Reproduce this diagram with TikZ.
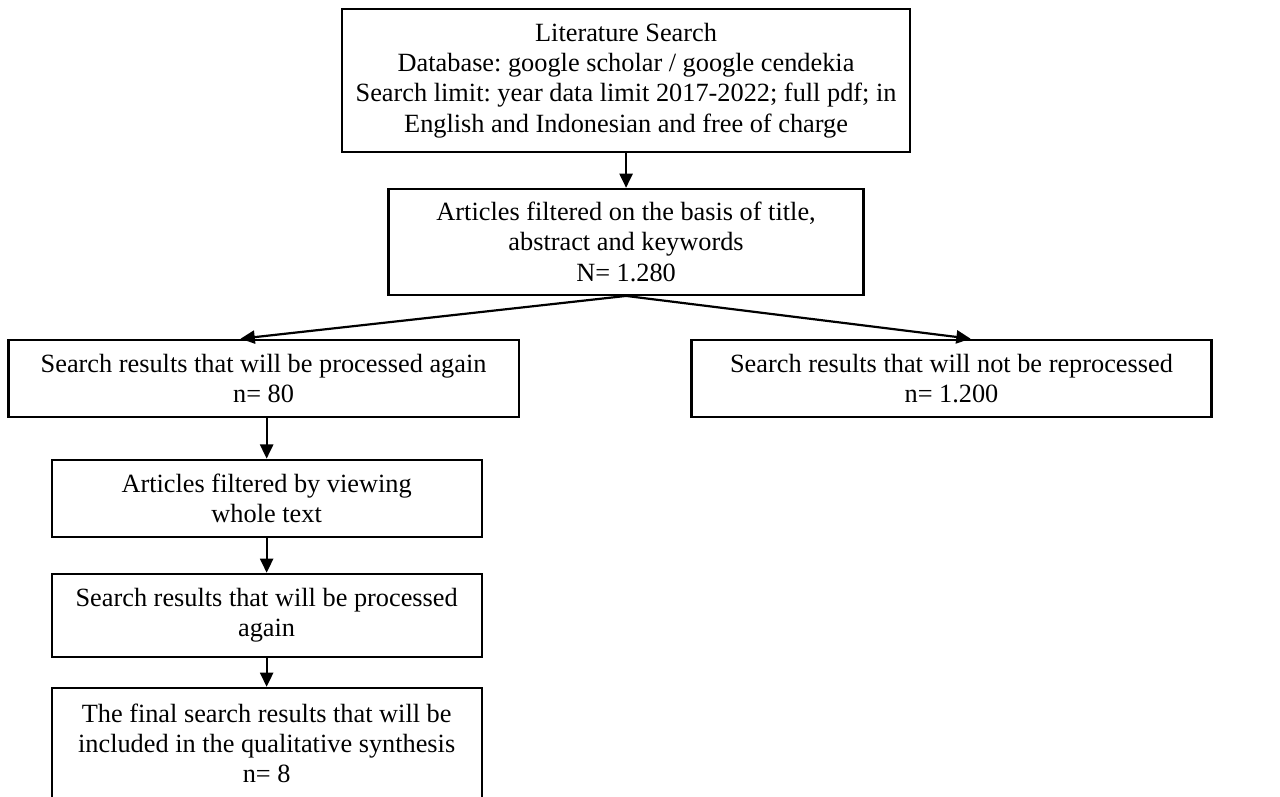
\documentclass[tikz,border=0pt]{standalone}
\usepackage{fontspec}
\setmainfont{Liberation Serif}
\usepackage{tikz}
\usetikzlibrary{arrows.meta}
\frenchspacing

\begin{document}
\begin{tikzpicture}[box/.style={draw,line width=1pt,align=center,inner sep=2pt,
    font=\fontsize{12}{13.8}\selectfont},
  arr/.style={line width=1pt,-{Triangle[length=6.5pt,width=6pt]}}]
\useasboundingbox (-285.5pt,-326.7pt) rectangle (298.2pt,36.7pt);
\node[box,minimum width=259pt,minimum height=65.2pt] (lit) {Literature Search\\
  Database: google scholar / google cendekia\\
  Search limit: year data limit 2017-2022; full pdf; in\\
  English and Indonesian and free of charge};
\node[box,minimum width=216.6pt,minimum height=48.3pt] (filt) [below of=lit,node distance=73.6pt]
  {Articles filtered on the basis of title,\\ abstract and keywords\\ N= 1.280};
\node[box,minimum width=232.6pt,minimum height=35.1pt] (again) [below of=filt,node distance=62.2pt,xshift=-165.3pt]
  {Search results that will be processed again\\ n= 80};
\node[box,minimum width=237.1pt,minimum height=35.1pt] (notre) [below of=filt,node distance=62.2pt,xshift=148.4pt]
  {Search results that will not be reprocessed\\ n= 1.200};
\node[box,minimum width=196.1pt,minimum height=35.1pt] (view) [below of=again,node distance=54.7pt,xshift=1.4pt]
  {Articles filtered by viewing\\ whole text};
\node[box,minimum width=196.1pt,minimum height=37.8pt] (again2) [below of=view,node distance=53.4pt]
  {Search results that will be processed\\ again};
\node[box,minimum width=196.1pt,minimum height=50.6pt] (final) [below of=again2,node distance=58.4pt]
  {The final search results that will be\\ included in the qualitative synthesis\\ n= 8};
% connectors
\draw[arr] (lit) -- (filt);
\draw[arr] (filt.south) -- ([xshift=-10.5pt]again.north);
\draw[arr] (filt.south) -- ([xshift=8.7pt]notre.north);
\draw[arr] (again.south -| view.north) -- (view);
\draw[arr] (view) -- (again2);
\draw[arr] (again2) -- (final);
\end{tikzpicture}
\end{document}
